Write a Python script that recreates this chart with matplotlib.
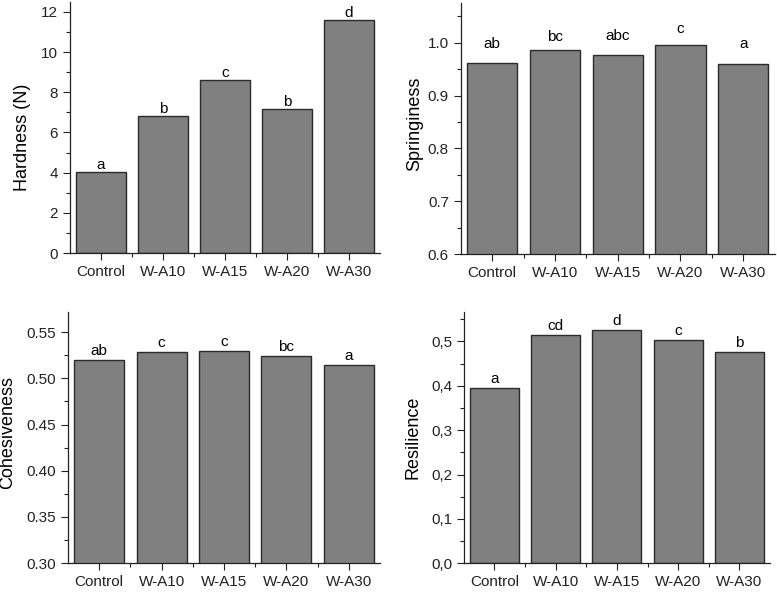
import numpy as np
import matplotlib
matplotlib.use("Agg")
import matplotlib.pyplot as plt
from matplotlib.ticker import MultipleLocator, FixedLocator, FuncFormatter

plt.rcParams['font.family'] = ['Liberation Sans', 'DejaVu Sans']

# 数据
groups = ['Control', 'W-A10', 'W-A15', 'W-A20', 'W-A30']
hardness = [4.01, 6.80, 8.59, 7.18, 11.58]
springiness = [0.962, 0.987, 0.976, 0.996, 0.959]
cohesiveness = [0.520, 0.529, 0.530, 0.524, 0.515]
resilience = [0.394, 0.514, 0.525, 0.503, 0.476]

hard_letters = ['a', 'b', 'c', 'b', 'd']
spr_letters = ['ab', 'bc', 'abc', 'c', 'a']
coh_letters = ['ab', 'c', 'c', 'bc', 'a']
res_letters = ['a', 'cd', 'd', 'c', 'b']

fig = plt.figure(figsize=(7.77, 5.94), dpi=100)

# (位置, 数据, 字母, 标签, ylim, 主刻度, 次刻度, 字母间距(像素), 标签坐标, 小数点符号, 格式)
panels = [
    ([0.090, 0.574, 0.399, 0.423], hardness, hard_letters, 'Hardness (N)',
     (0, 12.5), 2, 1, [3] * 5, (-0.125, 0.46), '.', '%g'),
    ([0.593, 0.572, 0.404, 0.423], springiness, spr_letters, 'Springiness',
     (0.6, 1.075), 0.1, 0.05, [15, 9, 15, 12, 16], (-0.12, 0.52), '.', '%.1f'),
    ([0.0875, 0.052, 0.4015, 0.423], cohesiveness, coh_letters, 'Cohesiveness',
     (0.30, 0.572), 0.05, 0.025, [5] * 5, (-0.165, 0.52), '.', '%.2f'),
    ([0.597, 0.0517, 0.394, 0.4235], resilience, res_letters, 'Resilience',
     (0, 0.567), 0.1, 0.05, [5] * 5, (-0.14, 0.50), ',', '%.1f'),
]

x = np.arange(len(groups))

for pos, vals, letters, ylabel, ylim, major, minor, pads, lab_xy, dec, fmt in panels:
    ax = fig.add_axes(pos)
    ax.bar(x, vals, width=0.8, color='#808080', edgecolor='#2b2b2b', linewidth=1.0)
    for xi, v, t, p in zip(x, vals, letters, pads):
        ax.annotate(t, (xi, v), xytext=(0, p * 0.72), textcoords='offset points',
                    ha='center', va='baseline', fontsize=11)
    ax.set_xlim(-0.5, 4.5)
    ax.set_ylim(*ylim)
    ax.set_xticks(x)
    ax.set_xticklabels(groups, fontsize=11)
    ax.xaxis.set_minor_locator(FixedLocator([0.5, 1.5, 2.5, 3.5]))
    ax.yaxis.set_major_locator(MultipleLocator(major))
    ax.yaxis.set_minor_locator(MultipleLocator(minor))
    ax.yaxis.set_major_formatter(FuncFormatter(lambda v, _, f=fmt, d=dec: (f % v).replace('.', d)))
    ax.tick_params(axis='both', which='major', direction='out', length=5, width=0.8,
                   labelsize=11, colors='#222222')
    ax.tick_params(axis='both', which='minor', direction='out', length=3, width=0.8,
                   colors='#222222')
    for s in ['top', 'right']:
        ax.spines[s].set_visible(False)
    for s in ['left', 'bottom']:
        ax.spines[s].set_linewidth(0.9)
        ax.spines[s].set_color('#222222')
    ax.set_ylabel(ylabel, fontsize=13)
    ax.yaxis.set_label_coords(*lab_xy)

fig.savefig('out.png', dpi=100)
